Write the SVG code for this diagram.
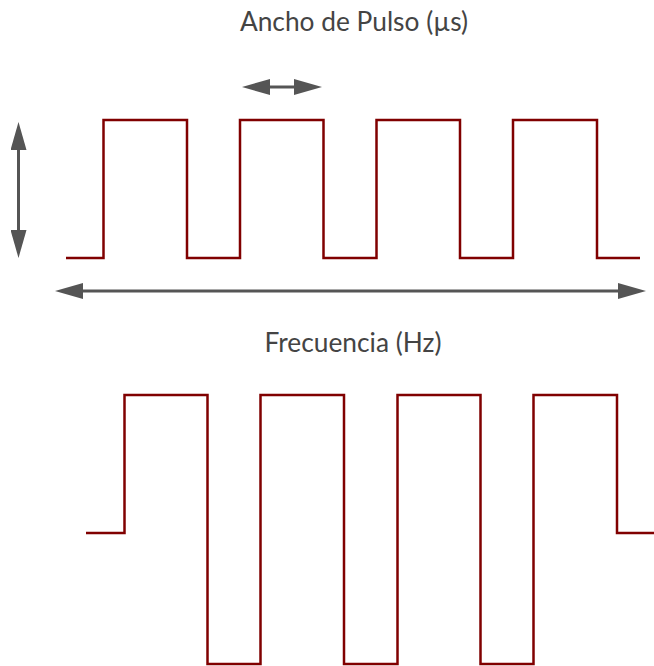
<svg xmlns="http://www.w3.org/2000/svg" width="654" height="666" viewBox="0 0 654 666">
  <defs>
    <style>
      .wave { fill: none; stroke: #800000; stroke-width: 2.5; stroke-linejoin: miter; }
      .arrow { stroke: #555555; stroke-width: 3; fill: none; }
      .label { font-family: Lato, "Open Sans", sans-serif; font-size: 26.3px; fill: #444444; text-anchor: middle; }
    </style>
    <marker id="head" viewBox="0 0 28 16" refX="0" refY="8" markerWidth="28" markerHeight="16" markerUnits="userSpaceOnUse" orient="auto-start-reverse">
      <path d="M0,0 L28,8 L0,16 Z" fill="#555555"/>
    </marker>
  </defs>
  <rect width="654" height="666" fill="#ffffff"/>

  <g id="title-pulse">
    <text class="label" x="354" y="31">Ancho de Pulso (µs)</text>
  </g>
  <g id="title-frequency">
    <text class="label" x="353" y="352">Frecuencia (Hz)</text>
  </g>

  <g id="wave-top">
    <path class="wave" d="M66,258 H103.5 V120 H187 V258 H240 V120 H323.5 V258 H376.5 V120 H460 V258 H513 V120 H597 V258 H640"/>
  </g>

  <g id="wave-bottom">
    <path class="wave" d="M86,533 H124.5 V395 H207.5 V664 H260.5 V395 H344 V664 H397.5 V395 H480.5 V664 H533.5 V395 H617 V533 H654"/>
  </g>

  <g id="connectors">
    <line class="arrow" x1="270" y1="87" x2="294" y2="87" marker-start="url(#head)" marker-end="url(#head)"/>
    <line class="arrow" x1="18.5" y1="150" x2="18.5" y2="230" marker-start="url(#head)" marker-end="url(#head)"/>
    <line class="arrow" x1="83" y1="291" x2="618" y2="291" marker-start="url(#head)" marker-end="url(#head)"/>
  </g>
</svg>
